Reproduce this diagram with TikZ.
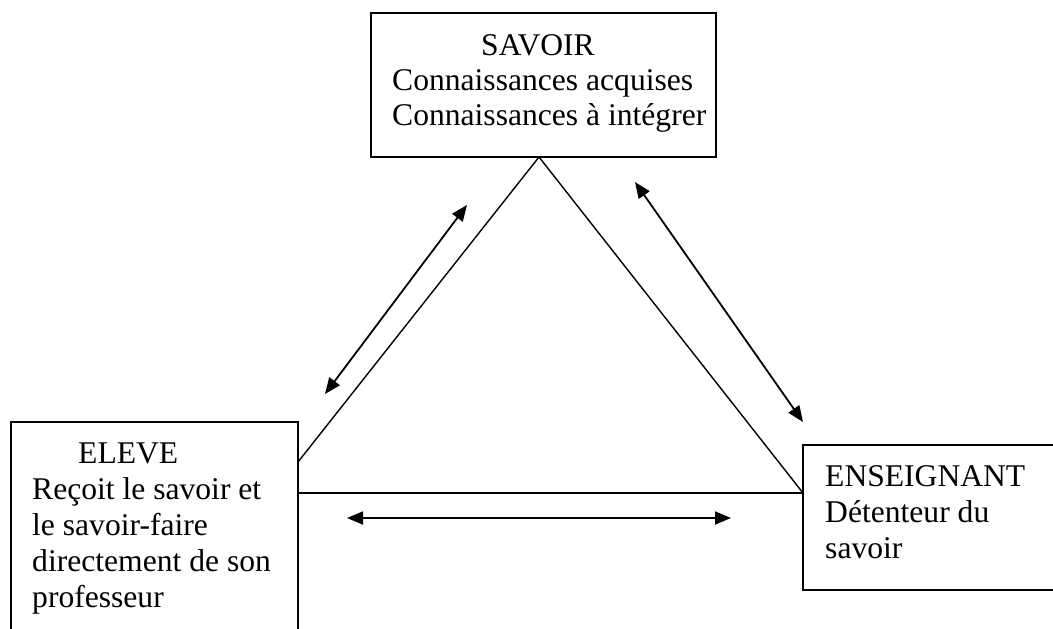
\documentclass[tikz,border=0pt]{standalone}
\usepackage{fontspec}
\setmainfont{Liberation Serif}
\usetikzlibrary{arrows.meta}
\begin{document}
\begin{tikzpicture}[x=1pt,y=-1pt,
  box/.style={draw, line width=1.6pt, inner sep=0pt},
  txt/.style={anchor=base west, inner sep=0pt, font=\fontsize{31.6}{36}\selectfont},
  side/.style={line width=1.4pt},
  dbl/.style={line width=1.8pt, {Triangle[length=16pt,width=13pt]}-{Triangle[length=16pt,width=13pt]}}]
\useasboundingbox (0,0) rectangle (1053,629);
\clip (0,0) rectangle (1053,629);
% boxes
\node[box, minimum width=345pt, minimum height=144pt] (savoir) at (543.5,85) {};
\node[box, minimum width=287pt, minimum height=278pt] (eleve) at (154.5,561) {};
\node[box, minimum width=297pt, minimum height=145pt] (ens) at (951.5,517.5) {};
% texts
\node[txt] (s1) at (481,55) {SAVOIR};
\node[txt] (s2) at (392,90) {Connaissances acquises};
\node[txt] (s3) at (392,125) {Connaissances à intégrer};
\node[txt] (e1) at (78,463) {ELEVE};
\node[txt] (e2) at (32,499) {Reçoit le savoir et};
\node[txt] (e3) at (32,535) {le savoir-faire};
\node[txt] (e4) at (32,571) {directement de son};
\node[txt] (e5) at (32,607) {professeur};
\node[txt] (n1) at (825,486) {ENSEIGNANT};
\node[txt] (n2) at (825,522) {Détenteur du};
\node[txt] (n3) at (825,558) {savoir};
% triangle
\coordinate (apex) at (539,157);
\coordinate (el) at (298,462);
\coordinate (bl) at (298,493);
\coordinate (br) at (803,493);
\draw[side] (el) -- (apex) -- (br);
\draw[side] (bl) -- (br);
% arrows
\coordinate (la) at (325,394);
\coordinate (lb) at (467,205);
\coordinate (ra) at (635,182);
\coordinate (rb) at (803,422);
\coordinate (ha) at (347,518);
\coordinate (hb) at (731,518);
\draw[dbl] (la) -- (lb);
\draw[dbl] (ra) -- (rb);
\draw[dbl] (ha) -- (hb);
\end{tikzpicture}
\end{document}
